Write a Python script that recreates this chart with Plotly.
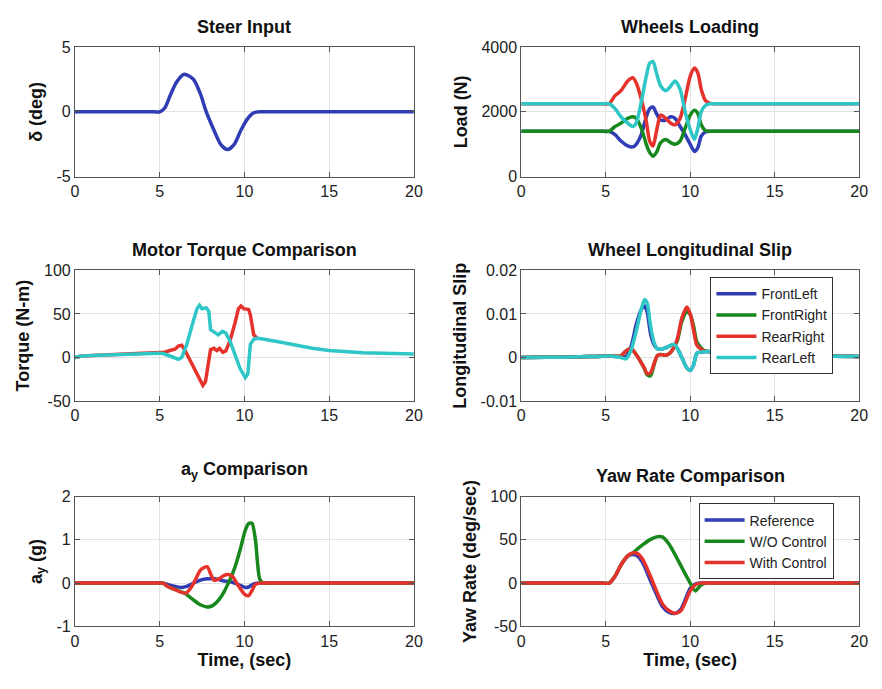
import plotly.graph_objects as go

# ---------------- data ----------------
steer_t = [0, 2, 3.5, 4.3, 4.7, 5.0, 5.3, 5.6, 6.0, 6.45, 7.0, 7.4, 7.75, 8.2, 8.6, 9.0, 9.4, 9.8, 10.2,
           10.5, 10.8, 11.2, 11.7, 12.5, 14, 16, 18, 20]
steer = [0, 0, 0, 0, 0, 0, 0.3, 1.2, 2.3, 2.9, 2.5, 1.4, 0.0, -1.4, -2.5, -2.9, -2.5, -1.4, -0.5,
         -0.1, 0, 0, 0, 0, 0, 0, 0, 0]

wl_t = [0, 2, 3.5, 4.3, 4.8, 5.2, 5.55, 5.9, 6.3, 6.6, 6.8, 7.1, 7.4, 7.6, 7.8, 8.0, 8.25, 8.55, 8.85,
        9.1, 9.4, 9.7, 10.0, 10.25, 10.45, 10.65, 10.9, 11.2, 11.6, 12.2, 13, 14.5, 16, 18, 20]
wl_fl = [1400, 1400, 1400, 1400, 1400, 1400, 1300, 1100, 950, 920, 1000, 1300, 1850, 2100, 2150, 1950,
         1750, 1750, 1850, 1800, 1550, 1300, 1000, 780, 900, 1250, 1380, 1400, 1400, 1400, 1400, 1400,
         1400, 1400, 1400]
wl_fr = [1400, 1400, 1400, 1400, 1400, 1400, 1550, 1650, 1800, 1850, 1800, 1500, 1000, 750, 630, 750,
         1050, 1150, 1050, 1000, 1100, 1500, 1900, 2050, 1950, 1600, 1420, 1400, 1400, 1400, 1400, 1400,
         1400, 1400, 1400]
wl_rr = [2250, 2250, 2250, 2250, 2250, 2250, 2500, 2650, 2950, 3050, 2900, 2400, 1700, 1100, 950, 1400,
         1900, 1800, 1650, 1600, 1800, 2400, 3100, 3350, 3200, 2700, 2350, 2260, 2250, 2250, 2250, 2250,
         2250, 2250, 2250]
wl_rl = [2250, 2250, 2250, 2250, 2250, 2250, 2100, 1850, 1650, 1550, 1650, 2300, 3100, 3500, 3550, 3200,
         2800, 2650, 2800, 2950, 2700, 2000, 1450, 1150, 1500, 2000, 2200, 2250, 2250, 2250, 2250, 2250,
         2250, 2250, 2250]

mt_red_t = [0, 0.3, 1, 2, 3, 4, 5, 5.3, 5.6, 5.9, 6.1, 6.3, 6.5, 6.7, 7.0, 7.3, 7.55, 7.7, 7.9, 8.0, 8.2,
            8.37, 8.53, 8.73, 8.9, 9.15, 9.45, 9.65, 9.8, 9.96, 10.25, 10.35, 10.55, 10.75]
mt_red = [0, 1.5, 2.3, 3, 3.8, 4.4, 5, 6, 8, 9.5, 13, 14, 8, 0, -11, -23, -32, -28, -6, 9, 10.5,
          8, 10.5, 6, 7.5, 19, 40, 56, 59, 56, 55, 49, 26, 22]
mt_cyan_t = [0, 0.3, 1, 2, 3, 4, 5, 5.3, 5.6, 5.9, 6.1, 6.3, 6.6, 6.9, 7.2, 7.35, 7.5, 7.75, 7.9, 8.0, 8.25,
             8.45, 8.7, 8.9, 9.15, 9.45, 9.75, 10.05, 10.2, 10.35, 10.55, 10.75, 11.0, 12, 13, 14, 15, 16,
             17, 20]
mt_cyan = [0, 1.5, 2.3, 3, 3.8, 4.4, 5, 4, 2, 0, -2, 0, 15, 36, 56, 60, 56, 57, 53, 32, 28,
           26, 30, 28, 19, 4, -13, -23, -19, 15, 21, 22, 21.5, 18, 14, 10.5, 8, 6.5, 5.5, 4]

sl_t = [0, 1.5, 3, 4, 4.8, 5.4, 5.9, 6.2, 6.5, 6.8, 7.1, 7.3, 7.45, 7.65, 7.85, 8.05, 8.25, 8.55, 8.85,
        9.05, 9.25, 9.5, 9.8, 10.0, 10.2, 10.4, 10.8, 11, 11.5, 12, 13, 14, 15.5, 17, 18.5, 20]
sl_fl = [0, 0.00005, 0.0001, 0.0002, 0.0003, 0.0003, 0.0001, 0.0002, 0.0025, 0.0075, 0.011, 0.0118,
         0.0105, 0.0055, 0.003, 0.002, 0.0019, 0.0022, 0.0028, 0.003, 0.002, 0, -0.0024, -0.003, -0.0017,
         0.001, 0.0013, 0.0014, 0.0013, 0.0012, 0.001, 0.0008, 0.0006, 0.0004, 0.0003, 0.0002]
sl_fr = [0, 0.00005, 0.0001, 0.0002, 0.0003, 0.0003, 0.0004, 0.0015, 0.002, 0.0007, -0.0012, -0.0027,
         -0.004, -0.0042, -0.0018, 0.0004, 0.0007, 0.0005, 0.0012, 0.0024, 0.004, 0.0082, 0.0105, 0.0098,
         0.0072, 0.0035, 0.0016, 0.0014, 0.0013, 0.0012, 0.001, 0.0008, 0.0006, 0.0004, 0.0003, 0.0002]
sl_rr = [0, 0.00005, 0.0001, 0.0002, 0.0003, 0.0003, 0.0004, 0.0015, 0.002, 0.0007, -0.0012, -0.0025,
         -0.0037, -0.0035, -0.0015, 0.0004, 0.0007, 0.0005, 0.0012, 0.0025, 0.0045, 0.009, 0.0116, 0.01,
         0.0062, 0.0028, 0.0015, 0.0014, 0.0013, 0.0012, 0.001, 0.0008, 0.0006, 0.0004, 0.0003, 0.0002]
sl_rl = [0, 0.00005, 0.0001, 0.0002, 0.0003, 0.0003, 0, -0.0003, 0.0017, 0.006, 0.011, 0.0133, 0.0125,
         0.0073, 0.0036, 0.002, 0.0019, 0.0022, 0.0028, 0.003, 0.002, 0, -0.0024, -0.003, -0.0017,
         0.001, 0.0013, 0.0014, 0.0013, 0.0012, 0.001, 0.0008, 0.0006, 0.0004, 0.0003, 0.0002]

ay_t = [0, 2, 3.5, 4.3, 4.8, 5.2, 5.45, 5.85, 6.25, 6.55, 6.8, 7.1, 7.4, 7.8, 8.0, 8.2, 8.5, 8.8, 9.05,
        9.3, 9.55, 9.8, 10.05, 10.25, 10.45, 10.65, 10.9, 11.1, 11.5, 12.2, 13, 14.5, 16, 18, 20]
ay_ref = [0, 0, 0, 0, 0, 0, -0.03, -0.07, -0.1, -0.08, -0.04, 0.02, 0.07, 0.1, 0.1, 0.1, 0.08, 0.05,
          0.04, 0.02, -0.02, -0.06, -0.1, -0.09, -0.04, -0.01, 0, 0, 0, 0, 0, 0, 0, 0, 0]
ay_wo = [0, 0, 0, 0, 0, 0, -0.07, -0.14, -0.2, -0.25, -0.33, -0.42, -0.5, -0.55, -0.54, -0.5, -0.38,
         -0.2, 0.0, 0.22, 0.5, 0.85, 1.22, 1.38, 1.38, 1.0, 0.1, 0, 0, 0, 0, 0, 0, 0, 0]
ay_with = [0, 0, 0, 0, 0, 0, -0.07, -0.14, -0.21, -0.23, -0.13, 0.07, 0.3, 0.38, 0.22, 0.07, 0.1, 0.18,
           0.2, 0.15, 0.0, -0.15, -0.27, -0.29, -0.17, -0.03, 0, 0, 0, 0, 0, 0, 0, 0, 0]

yr_t = [0, 2, 3.5, 4.3, 4.8, 5.2, 5.55, 5.9, 6.3, 6.6, 6.9, 7.2, 7.6, 8.0, 8.35, 8.75, 9.1, 9.45, 9.75,
        10.0, 10.3, 10.6, 10.9, 11.3, 12, 13, 14.5, 16, 18, 20]
yr_ref = [0, 0, 0, 0, 0, 0, 8, 21, 31, 33, 31, 23, 5, -13, -27, -34, -35, -30, -17, -6, -1, 0, 0, 0, 0,
          0, 0, 0, 0, 0]
yr_wo = [0, 0, 0, 0, 0, 0, 8, 21, 31.5, 35, 40, 44.5, 50, 53.5, 53.5, 45, 33, 20, 9, 0, -9, -3, 0, 0, 0,
         0, 0, 0, 0, 0]
yr_with = [0, 0, 0, 0, 0, 0, 8, 21, 31.5, 35, 34, 27, 10, -9, -24, -32, -35, -32, -20, -9, -2, 0, 0, 0,
           0, 0, 0, 0, 0, 0]

x_ticks = [0, 5, 10, 15, 20]

BLUE = "#2f3cb4"
GREEN = "#17881c"
RED = "#e5322b"
CYAN = "#2ec6c6"
FONT = "Liberation Sans, Arial, sans-serif"
W, H = 882, 689

fig = go.Figure()


def add(x, y, color, axis, name=None, legend=None, shape="spline"):
    line = dict(color=color, width=3.5, shape=shape)
    if shape == "spline":
        line["smoothing"] = 0.7
    fig.add_trace(go.Scatter(
        x=x, y=y, mode="lines", name=name, line=line,
        xaxis="x" + axis, yaxis="y" + axis,
        showlegend=legend is not None, legend=legend if legend else "legend",
    ))


add(steer_t, steer, BLUE, "")
add(wl_t, wl_fl, BLUE, "2")
add(wl_t, wl_fr, GREEN, "2")
add(wl_t, wl_rr, RED, "2")
add(wl_t, wl_rl, CYAN, "2")
add(mt_red_t, mt_red, RED, "3", shape="linear")
add(mt_cyan_t, mt_cyan, CYAN, "3", shape="linear")
add(sl_t, sl_fl, BLUE, "4", "FrontLeft", "legend")
add(sl_t, sl_fr, GREEN, "4", "FrontRight", "legend")
add(sl_t, sl_rr, RED, "4", "RearRight", "legend")
add(sl_t, sl_rl, CYAN, "4", "RearLeft", "legend")
add(ay_t, ay_ref, BLUE, "5")
add(ay_t, ay_wo, GREEN, "5")
add(ay_t, ay_with, RED, "5")
add(yr_t, yr_ref, BLUE, "6", "Reference", "legend2")
add(yr_t, yr_wo, GREEN, "6", "W/O Control", "legend2")
add(yr_t, yr_with, RED, "6", "With Control", "legend2")

XL = [72 / W, 416 / W]
XR = [525 / W, 868 / W]
ROWS = [[1 - 173 / H, 1 - 40 / H], [1 - 403 / H, 1 - 269 / H], [1 - 634 / H, 1 - 501 / H]]

axcommon = dict(showline=True, linecolor="#555", linewidth=1, mirror="ticks", ticks="inside",
                ticklen=5, tickcolor="#555", showgrid=True, gridcolor="#e2e2e2", gridwidth=1,
                zeroline=False, tickfont=dict(family=FONT, size=16, color="#222"))
ttl = dict(family=FONT, size=18, color="#111")

specs = [
    ("", XL, ROWS[0], [-5, 5], [-5, 0, 5], ["-5", "0", "5"], "<b>δ (deg)</b>"),
    ("2", XR, ROWS[0], [0, 4000], [0, 2000, 4000], ["0", "2000", "4000"], "<b>Load (N)</b>"),
    ("3", XL, ROWS[1], [-50, 100], [-50, 0, 50, 100], ["-50", "0", "50", "100"], "<b>Torque (N-m)</b>"),
    ("4", XR, ROWS[1], [-0.01, 0.02], [-0.01, 0, 0.01, 0.02], ["-0.01", "0", "0.01", "0.02"],
     "<b>Longitudinal Slip</b>"),
    ("5", XL, ROWS[2], [-1, 2], [-1, 0, 1, 2], ["-1", "0", "1", "2"], "<b>a<sub>y</sub> (g)</b>"),
    ("6", XR, ROWS[2], [-50, 100], [-50, 0, 50, 100], ["-50", "0", "50", "100"],
     "<b>Yaw Rate (deg/sec)</b>"),
]
lay = {}
for i, (k, xd, yd, yr, tv, tt, ytitle) in enumerate(specs):
    xa = dict(axcommon, domain=xd, anchor="y" + k, range=[0, 20], tickvals=x_ticks,
              ticktext=[str(v) for v in x_ticks])
    if i >= 4:
        xa["title"] = dict(text="<b>Time, (sec)</b>", font=ttl, standoff=2)
    ya = dict(axcommon, domain=yd, anchor="x" + k, range=yr, tickvals=tv, ticktext=tt,
              title=dict(text=ytitle, font=ttl, standoff=9))
    lay["xaxis" + k] = xa
    lay["yaxis" + k] = ya

titles = [
    ("<b>Steer Input</b>", (72 + 416) / 2, 19),
    ("<b>Wheels Loading</b>", (525 + 868) / 2, 19),
    ("<b>Motor Torque Comparison</b>", (72 + 416) / 2, 248),
    ("<b>Wheel Longitudinal Slip</b>", (525 + 868) / 2, 248),
    ("<b>a<sub>y</sub> Comparison</b>", (72 + 416) / 2, 474),
    ("<b>Yaw Rate Comparison</b>", (525 + 868) / 2, 480),
]
annotations = [dict(text=t, x=cx / W, y=1 - cy / H, xref="paper", yref="paper", showarrow=False,
                    xanchor="center", yanchor="middle", font=ttl) for t, cx, cy in titles]

legstyle = dict(bgcolor="white", bordercolor="#333", borderwidth=1, xanchor="left", yanchor="top",
                font=dict(family=FONT, size=14, color="#222"), tracegroupgap=0, itemwidth=40)

fig.update_layout(
    width=W, height=H, autosize=False, margin=dict(l=0, r=0, t=0, b=0),
    paper_bgcolor="white", plot_bgcolor="white",
    font=dict(family=FONT, color="#222"),
    annotations=annotations,
    legend=dict(legstyle, x=717 / W, y=1 - 276 / H),
    legend2=dict(legstyle, x=705 / W, y=1 - 508 / H),
    **lay,
)

fig.write_html("out.html")
